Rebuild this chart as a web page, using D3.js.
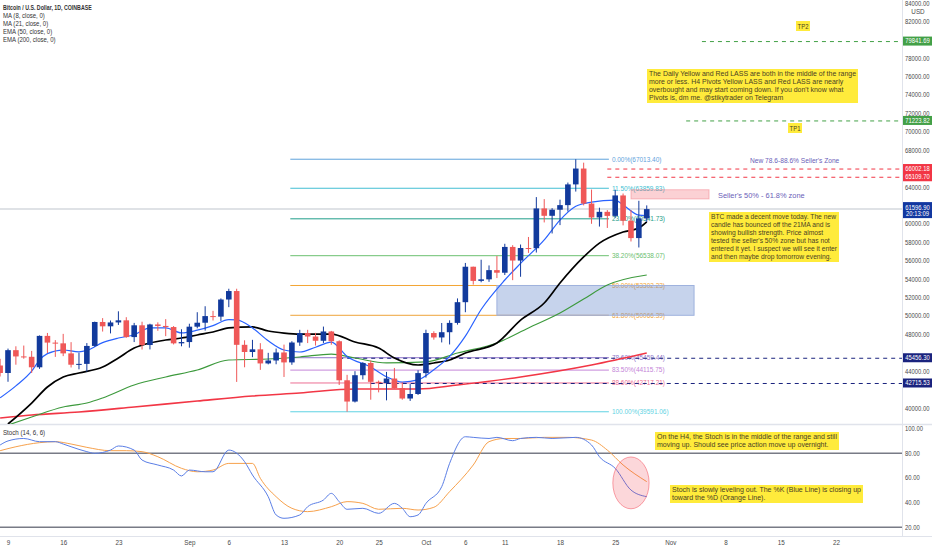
<!DOCTYPE html>
<html>
<head>
<meta charset="utf-8">
<script src="https://cdnjs.cloudflare.com/ajax/libs/d3/7.8.5/d3.min.js"></script>
<style>
	html, body { margin: 0; padding: 0; background: #fff; }
	#canvas { width: 932px; height: 550px; overflow: hidden; }
	text { font-family: "Liberation Sans", Arial, sans-serif; }
</style>
</head>
<body>
<div id="canvas"></div>
<script>
/**
 * BTC daily chart with MAs, fib levels and stoch
 */

// daily candles, first one is Aug 8 2021
var firstDay = '2021-08-08';
var opens = [44615, 43800, 46280, 45600, 45560, 44420, 47830, 47100, 47020, 45930, 44700, 44790, 46740, 49340, 48870, 49290, 49520, 47700, 48980, 46840, 49070, 48910, 48790, 47020,
	47160, 48830, 49260, 49980, 49920, 51780, 52700, 46860, 46080, 46370, 44840, 45160, 46030, 44950, 47110, 48140, 47760, 47300, 48310, 47250, 43010, 40700, 43560, 44890, 42840, 42710, 43200, 42170, 41030, 41520,
	43790, 48140, 47660, 48230, 49240, 51490, 55340, 53800, 53970, 54970, 54690, 57490, 56010, 57370, 57350, 61670, 60870, 61530, 62030, 64280, 66000, 62200, 60690, 61300, 60860, 63080, 60330, 58450, 60590];
var highs = [45340, 46450, 46700, 46780, 46200, 47880, 48150, 47370, 48050, 47150, 46000, 47050, 49380, 49760, 49500, 50500, 49860, 49240, 49370, 49150, 49300, 49650, 48900, 48550,
	49150, 50400, 51050, 50550, 51900, 52950, 52950, 47350, 47400, 47040, 45990, 46460, 46880, 47250, 48490, 48490, 48160, 48840, 48370, 47350, 43600, 44000, 44980, 45150, 42980, 43920, 44350, 42790, 42600, 44100,
	48500, 48330, 49230, 49520, 51900, 55750, 55350, 56100, 55480, 56500, 57830, 57680, 57750, 58570, 62900, 62680, 61700, 62620, 64480, 67010, 66640, 63720, 61750, 61490, 63700, 63290, 61500, 62500, 62000];
var lows = [43420, 42850, 44700, 45350, 43800, 44250, 45970, 45550, 45630, 44400, 44200, 43950, 46650, 48300, 48100, 49020, 47620, 47160, 46350, 46360, 48380, 47800, 46900, 46700,
	46550, 48650, 48400, 49500, 49450, 50950, 42830, 44420, 45520, 44140, 44740, 44750, 43370, 44690, 46750, 47050, 46780, 47060, 46870, 42500, 39600, 40600, 43100, 40900, 41700, 40830, 42100, 40900, 40770, 41420,
	43300, 47420, 47120, 46900, 49050, 50400, 53400, 53650, 53700, 54110, 54440, 53880, 54250, 56840, 56880, 60150, 58950, 59860, 61330, 63500, 62000, 60000, 59700, 59550, 60660, 59830, 58080, 57430, 60200];
var closes = [43800, 46280, 45600, 45560, 44420, 47830, 47100, 47020, 45930, 44700, 44790, 46740, 49340, 48870, 49290, 49520, 47700, 48980, 46840, 49070, 48910, 48790, 47020, 47160,
	48830, 49260, 49980, 49920, 51780, 52700, 46860, 46080, 46370, 44840, 45160, 46030, 44950, 47110, 48140, 47760, 47300, 48310, 47250, 43010, 40700, 43560, 44890, 42840, 42710, 43200, 42170, 41030, 41520, 43790,
	48140, 47660, 48230, 49240, 51490, 55340, 53800, 53970, 54970, 54690, 57490, 56010, 57370, 57350, 61670, 60870, 61530, 62030, 64280, 66000, 62200, 60690, 61300, 60860, 63080, 60330, 58450, 60590, 61597];
var lastPrice = 61596.90, lastTimer = '20:13:09';

// indicator lines: [day index, value]
var ma8 = [[0,41100],[2,42400],[4,44000],[5,45200],[6,45900],[8,46300],[10,46100],[11,46250],[13,47100],[15,47600],[17,47950],[19,48700],[21,48700],[23,48150],[25,48450],[27,48950],[29,49600],[30,49560],[32,48700],
	[34,47300],[36,46300],[38,46080],[40,46600],[42,47150],[44,45600],[47,44450],[49,43400],[51,42820],[53,43050],[55,44150],[57,45600],[59,47800],[61,50700],[64,53900],[66,55700],[69,58250],[71,60400],[73,61900],[75,62350],[78,62580],[79,62050],[81,60950],[82,60900]];
var ma21 = [[1,38260],[4,40540],[6,42280],[8,43370],[10,43800],[13,44450],[15,45430],[17,46510],[19,47060],[21,47380],[23,47600],[25,47930],[27,48250],[29,48690],[32,48800],[34,48360],[36,48140],[38,48030],[42,48030],
	[45,47170],[48,46510],[50,45430],[53,44670],[55,44890],[57,45210],[59,45970],[63,47060],[66,49550],[69,51400],[71,53570],[74,56400],[76,57900],[79,59110],[81,59540],[82,60200]];
var ema50 = [[1,38150],[4,39020],[8,40110],[11,40540],[13,41090],[17,42500],[21,43370],[25,44130],[29,45210],[34,45320],[38,45540],[42,45860],[45,45430],[49,44890],[54,45000],[58,45970],[63,47060],[67,48690],[71,50310],[74,51830],[77,53350],[82,54440]];
var ema200 = [[0,38910],[4,39240],[10,39570],[17,40110],[25,40760],[32,41300],[38,41630],[45,42060],[53,42060],[58,42500],[66,43370],[75,44670],[82,45970]];

// stoch (14, 6, 6)
var stochK = [[0,86.7],[1,90],[3,92],[5,89.4],[7,89.4],[8,87.5],[9,85.3],[11,81.3],[12,80],[14,82.6],[15,85.9],[17,82.6],[18,74.5],[20,70.5],[22,66.4],[23,61.6],[24,66.4],[26,65],[27,65],[29,82.6],[31,73.2],[32,62.4],
	[34,44.8],[35,30],[36,27.3],[38,30],[39,36.7],[41,42.1],[42,47.5],[43,40.8],[44,34.6],[46,35.4],[48,31.3],[50,39.4],[51,35.4],[52,28.6],[53,30],[54,39.4],[56,52.9],[57,71.8],[59,93.4],[60,92.9],[62,92],
	[63,92.9],[65,90.2],[66,92],[68,92.9],[70,92],[73,92.9],[75,86.7],[76,77.2],[78,67.8],[80,50.2],[82,44.8]];
var stochD = [[0,82.1],[2,85.3],[5,88.6],[7,89.4],[9,87.5],[11,84.8],[14,82.1],[16,82.1],[18,81.3],[20,77.2],[23,67.8],[25,65],[27,66.4],[29,71.8],[32,71.8],[33,59.7],[35,44.8],[37,35.4],[39,32.7],[42,36.7],
	[44,40.8],[46,39.4],[48,34.6],[51,35.4],[53,34],[55,36.2],[57,48.9],[60,70.5],[62,89.4],[64,92],[66,92],[69,92.9],[72,92.9],[75,90.7],[77,82.6],[79,70.5],[82,57]];

// fib retracement
var fibHigh = 67013.40, fibLow = 39591.06;
var fibLevels = [0, 0.115, 0.236, 0.382, 0.5, 0.618, 0.786, 0.835, 0.886, 1];
var fibColors = ['#5fa3dc', '#43bfd3', '#1f9e8a', '#6cc070', '#f3a534', '#eea43a', '#8e73c9', '#c485d8', '#ec6f93', '#5fd3e3'];

// horizontal levels
var levelPrices = [79841.69, 71223.82, 66002.18, 65109.70, 45456.30, 42715.53];
var levelColors = ['#43a047', '#43a047', '#f23645', '#f23645', '#1a237e', '#1a237e'];
var levelStart = [89, 87, 77, 77, 43, 47];

// axes
var priceTicks = [40000, 42000, 44000, 46000, 48000, 50000, 52000, 54000, 56000, 58000, 60000, 62000, 64000, 66000, 68000, 70000, 72000, 74000, 76000, 78000, 80000, 82000, 84000];
var stochTicks = [20, 40, 60, 80, 100];
var dateTicks = [['2021-08-09','9'],['2021-08-16','16'],['2021-08-23','23'],['2021-09-01','Sep'],['2021-09-06','6'],['2021-09-13','13'],['2021-09-20','20'],['2021-09-25','25'],['2021-10-01','Oct'],
	['2021-10-06','6'],['2021-10-11','11'],['2021-10-18','18'],['2021-10-25','25'],['2021-11-01','Nov'],['2021-11-08','8'],['2021-11-15','15'],['2021-11-22','22']];

var legendLines = ['Bitcoin / U.S. Dollar, 1D, COINBASE', 'MA (8, close, 0)', 'MA (21, close, 0)', 'EMA (50, close, 0)', 'EMA (200, close, 0)'];
var noteDaily = ['The Daily Yellow and Red LASS are both in the middle of the range', 'more or less. H4 Pivots Yellow LASS and Red LASS are nearly',
	'overbought and may start coming down. If you don\'t know what', 'Pivots is, dm me. @stikytrader on Telegram'];
var noteBtc = ['BTC made a decent move today. The new', 'candle has bounced off the 21MA and is', 'showing bullish strength. Price almost',
	'tested the seller\'s 50% zone but has not', 'entered it yet. I suspect we will see it enter', 'and then maybe drop tomorrow evening.'];
var noteH4 = ['On the H4, the Stoch is in the middle of the range and still', 'moving up. Should see price action move up overnight.'];
var noteStoch = ['Stoch is slowly leveling out. The %K (Blue Line) is closing up', 'toward the %D (Orange Line).'];

document.addEventListener('DOMContentLoaded', function(e) {

	var width = 932,
		height = 550,
		plotRight = 902,
		paneBottom = 424,
		stochTop = 425,
		stochBottom = 536,
		upColor = '#123a9c',
		downColor = '#ef5858',
		axisFont = 6.3,
		parse = d3.timeParse('%Y-%m-%d'),
		startDay = parse(firstDay),
		svg = d3.select('#canvas').append('svg').attr('width', width).attr('height', height);

	var x = d3.scaleTime().domain([parse('2021-08-09'), parse('2021-11-22')]).range([8, 836]),
		y = d3.scaleLinear().domain([40000, 82000]).range([408, 21.2]),
		ys = d3.scaleLinear().domain([20, 100]).range([527.3, 428.6]);

	// x position of a (possibly fractional) day index
	function xi(i) {
		return x(new Date(+startDay + i * 864e5));
	}

	// squeeze text horizontally, there is no narrow font installed
	function squeeze(sel, f) {
		sel.each(function() {
			var len = this.getComputedTextLength();
			d3.select(this).attr('textLength', len * f).attr('lengthAdjust', 'spacingAndGlyphs');
		});
		return sel;
	}

	var defs = svg.append('defs');
	defs.append('clipPath').attr('id', 'clipPrice').append('rect').attr('x', 0).attr('y', 0).attr('width', plotRight).attr('height', paneBottom);
	defs.append('clipPath').attr('id', 'clipStoch').append('rect').attr('x', 0).attr('y', stochTop).attr('width', plotRight).attr('height', stochBottom - stochTop);

	// frame lines
	svg.append('line').attr('x1', 0).attr('x2', width).attr('y1', paneBottom + 0.5).attr('y2', paneBottom + 0.5).attr('stroke', '#e0e3eb').attr('stroke-width', 1.5);
	svg.append('line').attr('x1', 0).attr('x2', width).attr('y1', stochBottom + 0.5).attr('y2', stochBottom + 0.5).attr('stroke', '#e0e3eb');
	svg.append('line').attr('x1', plotRight + 0.5).attr('x2', plotRight + 0.5).attr('y1', 0).attr('y2', stochBottom).attr('stroke', '#e0e3eb');

	var price = svg.append('g').attr('clip-path', 'url(#clipPrice)');

	// last price line
	price.append('line').attr('x1', 0).attr('x2', plotRight).attr('y1', y(lastPrice)).attr('y2', y(lastPrice))
		.attr('stroke', '#d5d8de').attr('stroke-width', 1.5);

	// fib lines + labels
	var fibX0 = xi(36.8), fibX1 = xi(77.2);
	fibLevels.forEach(function(lv, k) {
		var p = fibHigh - (fibHigh - fibLow) * lv;
		price.append('line').attr('x1', fibX0).attr('x2', fibX1).attr('y1', y(p)).attr('y2', y(p))
			.attr('stroke', fibColors[k]).attr('stroke-width', 1);
		squeeze(price.append('text').attr('x', fibX1 + 3).attr('y', y(p) + 2.3)
			.attr('font-size', 6.8).attr('fill', fibColors[k])
			.text(d3.format('.2f')(lv * 100) + '%(' + d3.format('.2f')(p) + ')'), 0.95);
	});

	// zones
	var z50 = fibHigh - (fibHigh - fibLow) * 0.5,
		z618 = fibHigh - (fibHigh - fibLow) * 0.618;
	price.append('rect').attr('x', xi(63)).attr('width', xi(88) - xi(63)).attr('y', y(z50)).attr('height', y(z618) - y(z50))
		.attr('fill', 'rgba(105,140,205,0.38)').attr('stroke', '#9fb2de').attr('stroke-width', 1);
	price.append('rect').attr('x', xi(80)).attr('width', xi(89.9) - xi(80)).attr('y', y(63700)).attr('height', y(62700) - y(63700))
		.attr('fill', 'rgba(242,90,100,0.28)').attr('stroke', 'rgba(242,90,100,0.35)');

	// dashed levels
	levelPrices.forEach(function(p, k) {
		price.append('line').attr('x1', xi(levelStart[k])).attr('x2', plotRight).attr('y1', y(p) + 0.5).attr('y2', y(p) + 0.5)
			.attr('stroke', levelColors[k]).attr('stroke-width', 1).attr('stroke-dasharray', '4,4');
	});

	// moving averages
	var line = d3.line()
		.x(function(d) { return xi(d[0]); })
		.y(function(d) { return y(d[1]); })
		.curve(d3.curveMonotoneX);
	price.append('path').attr('d', line(ema200)).attr('fill', 'none').attr('stroke', '#f23645').attr('stroke-width', 1.6);
	price.append('path').attr('d', line(ema50)).attr('fill', 'none').attr('stroke', '#3d9a3d').attr('stroke-width', 1.2);
	price.append('path').attr('d', line(ma21)).attr('fill', 'none').attr('stroke', '#000').attr('stroke-width', 1.7);
	price.append('path').attr('d', line(ma8)).attr('fill', 'none').attr('stroke', '#2962ff').attr('stroke-width', 1.2);

	// candles
	var candles = price.selectAll('g.candle')
		.data(closes)
		.enter()
		.append('g')
		.attr('class', 'candle');
	candles.append('line')
		.attr('x1', function(d, i) { return xi(i); })
		.attr('x2', function(d, i) { return xi(i); })
		.attr('y1', function(d, i) { return y(highs[i]); })
		.attr('y2', function(d, i) { return y(lows[i]); })
		.attr('stroke', function(d, i) { return d >= opens[i] ? upColor : downColor; })
		.attr('stroke-width', 1);
	candles.append('rect')
		.attr('x', function(d, i) { return xi(i) - 2.8; })
		.attr('width', 5.6)
		.attr('y', function(d, i) { return y(Math.max(d, opens[i])); })
		.attr('height', function(d, i) { return Math.max(1, Math.abs(y(d) - y(opens[i]))); })
		.attr('fill', function(d, i) { return d >= opens[i] ? upColor : downColor; });

	// yellow notes, lines squeezed so the longest one fills the box
	function note(g, lines, x0, y0, w, h) {
		var lineH = (h - 2) / lines.length;
		g.append('rect').attr('x', x0).attr('y', y0).attr('width', w).attr('height', h).attr('fill', '#ffeb3b');
		var texts = g.selectAll(null)
			.data(lines)
			.enter()
			.append('text')
			.attr('x', x0 + 2)
			.attr('y', function(d, k) { return y0 + 1 + lineH * (k + 0.8); })
			.attr('font-size', lineH * 0.93)
			.attr('fill', '#4a4224')
			.text(function(d) { return d; });
		var maxLen = 0;
		texts.each(function() { maxLen = Math.max(maxLen, this.getComputedTextLength()); });
		squeeze(texts, Math.min(1, (w - 4) / maxLen));
	}

	function tag(g, txt, x0, y0) {
		g.append('rect').attr('x', x0).attr('y', y0).attr('width', 14).attr('height', 10).attr('fill', '#ffeb3b');
		squeeze(g.append('text').attr('x', x0 + 7).attr('y', y0 + 7.5).attr('text-anchor', 'middle').attr('font-size', 7).attr('fill', '#4a4224').text(txt), 0.85);
	}

	note(svg, noteDaily, 647, 69, 211, 34);
	note(svg, noteBtc, 709, 212, 130, 50);
	tag(svg, 'TP2', 796, 21);
	tag(svg, 'TP1', 788, 123);

	squeeze(svg.append('text').attr('x', 750).attr('y', 163).attr('font-size', 7.8).attr('fill', '#6a5eb8').text('New 78.6-88.6% Seller\'s Zone'), 0.85);
	squeeze(svg.append('text').attr('x', 718).attr('y', 197.5).attr('font-size', 7.8).attr('fill', '#6a5eb8').text('Seller\'s 50% - 61.8% zone'), 0.95);

	// legend
	var legend = svg.selectAll('text.legend')
		.data(legendLines)
		.enter()
		.append('text')
		.attr('class', 'legend')
		.attr('x', 3)
		.attr('y', function(d, k) { return 9.5 + k * 8; })
		.attr('font-size', 7)
		.attr('font-weight', function(d, k) { return k ? 'normal' : 'bold'; })
		.attr('fill', '#333')
		.text(function(d) { return d; });
	squeeze(legend.filter(function(d, k) { return k === 0; }), 0.75);
	squeeze(legend.filter(function(d, k) { return k > 0; }), 0.86);

	// stoch pane
	var stoch = svg.append('g').attr('clip-path', 'url(#clipStoch)');
	[80, 20].forEach(function(v) {
		stoch.append('line').attr('x1', 0).attr('x2', plotRight).attr('y1', ys(v)).attr('y2', ys(v))
			.attr('stroke', '#787b86').attr('stroke-width', 1.4);
	});
	var sline = d3.line()
		.x(function(d) { return xi(d[0]); })
		.y(function(d) { return ys(d[1]); })
		.curve(d3.curveMonotoneX);
	stoch.append('path').attr('d', sline(stochD)).attr('fill', 'none').attr('stroke', '#f7a14c').attr('stroke-width', 1);
	stoch.append('path').attr('d', sline(stochK)).attr('fill', 'none').attr('stroke', '#5a7ee6').attr('stroke-width', 1);

	var ex0 = xi(77.7), ex1 = xi(82.3);
	stoch.append('ellipse')
		.attr('cx', (ex0 + ex1) / 2).attr('cy', (ys(77) + ys(35)) / 2)
		.attr('rx', (ex1 - ex0) / 2).attr('ry', (ys(35) - ys(77)) / 2)
		.attr('fill', 'rgba(242,54,69,0.2)').attr('stroke', 'rgba(242,54,69,0.45)');

	note(svg, noteH4, 655, 432, 184, 18);
	note(svg, noteStoch, 670, 485, 193, 18);

	squeeze(svg.append('text').attr('x', 3).attr('y', 435).attr('font-size', 7).attr('fill', '#333').text('Stoch (14, 6, 6)'), 0.88);

	// axes, price ticks hidden where a price tag covers them
	var tagYs = levelPrices.concat([lastPrice]).map(function(p) { return y(p); });
	var shownTicks = priceTicks.filter(function(t) {
		return tagYs.every(function(ty) { return Math.abs(y(t) - ty) > 7; });
	});
	var priceAxis = svg.append('g').attr('transform', 'translate(' + (plotRight + 3) + ',0)')
		.call(d3.axisRight(y).tickValues(shownTicks).tickSize(0).tickPadding(0).tickFormat(d3.format('.2f')));
	var stochAxis = svg.append('g').attr('transform', 'translate(' + (plotRight + 3) + ',0)')
		.call(d3.axisRight(ys).tickValues(stochTicks).tickSize(0).tickPadding(0).tickFormat(d3.format('.2f')));
	var dateAxis = svg.append('g').attr('transform', 'translate(0,' + (stochBottom + 2) + ')')
		.call(d3.axisBottom(x).tickValues(dateTicks.map(function(d) { return parse(d[0]); })).tickSize(0).tickPadding(3)
			.tickFormat(function(d, k) { return dateTicks[k][1]; }));
	[priceAxis, stochAxis, dateAxis].forEach(function(a) {
		a.select('.domain').remove();
		a.selectAll('text').attr('font-size', axisFont).attr('fill', '#4a4a4a')
			.style('font-family', '"Liberation Sans", Arial, sans-serif');
	});
	squeeze(priceAxis.selectAll('text'), 0.93);
	squeeze(stochAxis.selectAll('text'), 0.93);
	priceAxis.selectAll('.tick').filter(function(d) { return d === 84000; }).select('text').attr('dy', '0.5em');
	svg.append('text').attr('x', plotRight + 16).attr('y', 13.5).attr('text-anchor', 'middle').attr('font-size', axisFont).attr('fill', '#4a4a4a').text('USD');

	// price tags on the axis
	levelPrices.forEach(function(p, k) {
		svg.append('rect').attr('x', plotRight + 1).attr('y', y(p) - 4.5).attr('width', 29).attr('height', 9).attr('fill', levelColors[k]);
		squeeze(svg.append('text').attr('x', plotRight + 15.5).attr('y', y(p) + 2.3).attr('text-anchor', 'middle')
			.attr('font-size', axisFont).attr('fill', '#fff').text(d3.format('.2f')(p)), 0.93);
	});
	svg.append('rect').attr('x', plotRight + 1).attr('y', y(lastPrice) - 7).attr('width', 29).attr('height', 16).attr('fill', '#1237a0');
	squeeze(svg.append('text').attr('x', plotRight + 15.5).attr('y', y(lastPrice) + 0.5).attr('text-anchor', 'middle')
		.attr('font-size', axisFont).attr('fill', '#fff').text(d3.format('.2f')(lastPrice)), 0.93);
	squeeze(svg.append('text').attr('x', plotRight + 15.5).attr('y', y(lastPrice) + 7.3).attr('text-anchor', 'middle')
		.attr('font-size', axisFont).attr('fill', '#fff').text(lastTimer), 0.93);

});
</script>
</body>
</html>
